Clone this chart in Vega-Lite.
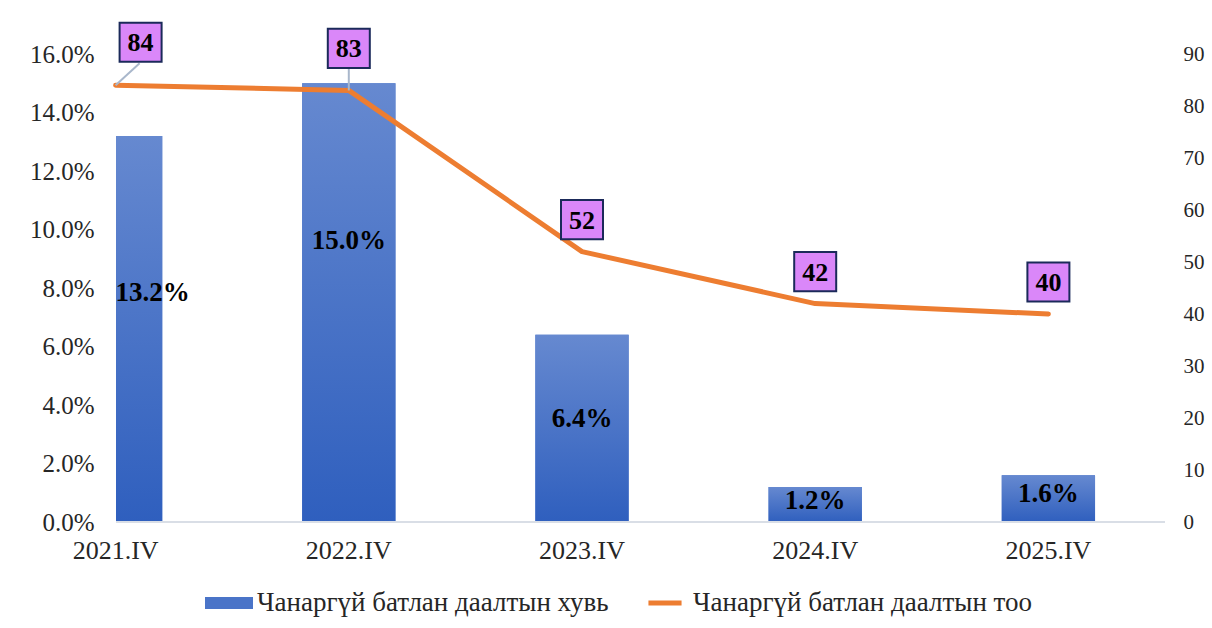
{
  "$schema": "https://vega.github.io/schema/vega-lite/v6.json",
  "width": 1049,
  "height": 468,
  "autosize": {"type": "none"},
  "padding": {"left": 116, "top": 54, "right": 47, "bottom": 106},
  "background": "white",
  "data": {
    "values": [
      {"period": "2021.IV", "share": 0.132, "count": 84},
      {"period": "2022.IV", "share": 0.150, "count": 83},
      {"period": "2023.IV", "share": 0.064, "count": 52},
      {"period": "2024.IV", "share": 0.012, "count": 42},
      {"period": "2025.IV", "share": 0.016, "count": 40}
    ]
  },
  "config": {
    "font": "Liberation Serif",
    "view": {"stroke": null}
  },
  "layer": [
    {
      "layer": [
        {
          "mark": {"type": "bar", "clip": true},
          "encoding": {
            "x": {
              "field": "period", "type": "nominal", "sort": null,
              "scale": {"type": "band", "range": [-117, 1049], "paddingInner": 0.6, "paddingOuter": 0.3},
              "axis": {"title": null, "labelAngle": 0, "domain": false, "ticks": false, "grid": false,
                       "labelFont": "Liberation Serif", "labelFontSize": 26, "labelColor": "#262626", "labelPadding": 15}
            },
            "y": {
              "field": "share", "type": "quantitative",
              "scale": {"domain": [0, 0.16]},
              "axis": {"orient": "left", "title": null, "values": [0, 0.02, 0.04, 0.06, 0.08, 0.10, 0.12, 0.14, 0.16],
                       "format": ".1%", "domain": false, "ticks": false, "grid": false,
                       "labelFont": "Liberation Serif", "labelFontSize": 25, "labelColor": "#262626", "labelPadding": 22}
            },
            "color": {
              "datum": "Чанаргүй батлан даалтын хувь", "type": "nominal",
              "scale": {
                "domain": ["Чанаргүй батлан даалтын хувь", "Чанаргүй батлан даалтын тоо"],
                "range": ["#4A74C8", "#ED7D31"]
              },
              "legend": {
                "orient": "none", "legendX": 89, "legendY": 525, "direction": "horizontal", "title": null,
                "labelFont": "Liberation Serif", "labelFontSize": 27, "labelColor": "#262626", "labelLimit": 700,
                "symbolSize": 2304, "columnPadding": 32, "labelOffset": 4,
                "encode": {
                  "symbols": {
                    "update": {
                      "shape": {"signal": "datum.value === 'Чанаргүй батлан даалтын хувь' ? 'M-1,-0.25H1V0.25H-1Z' : 'M-0.69,-0.1H0.69V0.1H-0.69Z'"},
                      "fill": {"signal": "datum.value === 'Чанаргүй батлан даалтын хувь' ? {gradient: 'linear', x1: 0, y1: 0, x2: 0, y2: 1, stops: [{offset: 0, color: '#6689D0'}, {offset: 1, color: '#2F5FBE'}]} : '#ED7D31'"},
                      "strokeWidth": {"value": 0},
                      "opacity": {"value": 1},
                      "fillOpacity": {"value": 1}
                    }
                  }
                }
              }
            }
          }
        },
        {
          "mark": {"type": "bar", "clip": true,
                   "fill": {"gradient": "linear", "x1": 0, "y1": 0, "x2": 0, "y2": 1,
                            "stops": [{"offset": 0, "color": "#6689D0"}, {"offset": 1, "color": "#2F5FBE"}]}},
          "encoding": {
            "x": {"field": "period", "type": "nominal", "sort": null},
            "y": {"field": "share", "type": "quantitative"}
          }
        },
        {
          "mark": {"type": "rule", "color": "#D9DEE6", "strokeWidth": 2},
          "encoding": {"y": {"datum": 0, "type": "quantitative"}}
        }
      ]
    },
    {
      "layer": [
        {
          "transform": [{"filter": "datum.period === '2021.IV'"}],
          "mark": {"type": "text", "fontWeight": "bold", "fontSize": 27, "font": "Liberation Serif", "color": "#000000", "dx": 37, "baseline": "middle"},
          "encoding": {
            "x": {"field": "period", "type": "nominal", "sort": null},
            "y": {"field": "share", "type": "quantitative", "scale": {"domain": [0, 0.27]}, "axis": null},
            "text": {"field": "share", "type": "quantitative", "format": ".1%"}
          }
        },
        {
          "transform": [{"filter": "datum.period === '2022.IV'"}],
          "mark": {"type": "text", "fontWeight": "bold", "fontSize": 27, "font": "Liberation Serif", "color": "#000000", "dy": -21, "baseline": "middle"},
          "encoding": {
            "x": {"field": "period", "type": "nominal", "sort": null},
            "y": {"field": "share", "type": "quantitative", "scale": {"domain": [0, 0.27]}, "axis": null},
            "text": {"field": "share", "type": "quantitative", "format": ".1%"}
          }
        },
        {
          "transform": [{"filter": "datum.period === '2023.IV'"}],
          "mark": {"type": "text", "fontWeight": "bold", "fontSize": 27, "font": "Liberation Serif", "color": "#000000", "dy": 8, "baseline": "middle"},
          "encoding": {
            "x": {"field": "period", "type": "nominal", "sort": null},
            "y": {"field": "share", "type": "quantitative", "scale": {"domain": [0, 0.27]}, "axis": null},
            "text": {"field": "share", "type": "quantitative", "format": ".1%"}
          }
        },
        {
          "transform": [{"filter": "datum.period === '2024.IV' || datum.period === '2025.IV'"}],
          "mark": {"type": "text", "fontWeight": "bold", "fontSize": 27, "font": "Liberation Serif", "color": "#000000", "baseline": "middle"},
          "encoding": {
            "x": {"field": "period", "type": "nominal", "sort": null},
            "y": {"field": "share", "type": "quantitative", "scale": {"domain": [0, 0.27]}, "axis": null},
            "text": {"field": "share", "type": "quantitative", "format": ".1%"}
          }
        }
      ]
    },
    {
      "layer": [
        {
          "mark": {"type": "line", "strokeWidth": 5, "strokeCap": "round", "strokeJoin": "round"},
          "encoding": {
            "x": {"field": "period", "type": "nominal", "sort": null},
            "y": {
              "field": "count", "type": "quantitative",
              "scale": {"domain": [0, 90]},
              "axis": {"orient": "right", "title": null, "values": [0, 10, 20, 30, 40, 50, 60, 70, 80, 90],
                       "domain": false, "ticks": false, "grid": false,
                       "labelFont": "Liberation Serif", "labelFontSize": 21, "labelColor": "#262626", "labelPadding": 18}
            },
            "color": {"datum": "Чанаргүй батлан даалтын тоо", "type": "nominal"}
          }
        },
        {
          "transform": [{"filter": "datum.period === '2021.IV'"}],
          "mark": {"type": "rule", "color": "#A9B7CB", "strokeWidth": 2, "x2Offset": 24, "y2Offset": -22},
          "encoding": {
            "x": {"field": "period", "type": "nominal", "sort": null},
            "y": {"field": "count", "type": "quantitative"},
            "x2": {"field": "period"},
            "y2": {"field": "count"}
          }
        },
        {
          "transform": [{"filter": "datum.period === '2022.IV'"}],
          "mark": {"type": "rule", "color": "#A9B7CB", "strokeWidth": 2, "y2Offset": -22},
          "encoding": {
            "x": {"field": "period", "type": "nominal", "sort": null},
            "y": {"field": "count", "type": "quantitative"},
            "y2": {"field": "count"}
          }
        },
        {
          "transform": [{"filter": "datum.period === '2021.IV'"}],
          "mark": {"type": "point", "filled": true, "shape": "M-1,-0.93H1V0.93H-1Z", "size": 1764, "fill": "#DA87F9", "stroke": "#1B2A5A", "strokeWidth": 2, "opacity": 1, "xOffset": 25, "yOffset": -43},
          "encoding": {
            "x": {"field": "period", "type": "nominal", "sort": null},
            "y": {"field": "count", "type": "quantitative"}
          }
        },
        {
          "transform": [{"filter": "datum.period === '2021.IV'"}],
          "mark": {"type": "text", "fontWeight": "bold", "fontSize": 26, "font": "Liberation Serif", "color": "#000000", "baseline": "middle", "xOffset": 25, "yOffset": -42},
          "encoding": {
            "x": {"field": "period", "type": "nominal", "sort": null},
            "y": {"field": "count", "type": "quantitative"},
            "text": {"field": "count", "type": "quantitative"}
          }
        },
        {
          "transform": [{"filter": "datum.period === '2022.IV'"}],
          "mark": {"type": "point", "filled": true, "shape": "M-1,-0.93H1V0.93H-1Z", "size": 1764, "fill": "#DA87F9", "stroke": "#1B2A5A", "strokeWidth": 2, "opacity": 1, "yOffset": -42},
          "encoding": {
            "x": {"field": "period", "type": "nominal", "sort": null},
            "y": {"field": "count", "type": "quantitative"}
          }
        },
        {
          "transform": [{"filter": "datum.period === '2022.IV'"}],
          "mark": {"type": "text", "fontWeight": "bold", "fontSize": 26, "font": "Liberation Serif", "color": "#000000", "baseline": "middle", "yOffset": -41},
          "encoding": {
            "x": {"field": "period", "type": "nominal", "sort": null},
            "y": {"field": "count", "type": "quantitative"},
            "text": {"field": "count", "type": "quantitative"}
          }
        },
        {
          "transform": [{"filter": "datum.period !== '2021.IV' && datum.period !== '2022.IV'"}],
          "mark": {"type": "point", "filled": true, "shape": "M-1,-0.93H1V0.93H-1Z", "size": 1764, "fill": "#DA87F9", "stroke": "#1B2A5A", "strokeWidth": 2, "opacity": 1, "yOffset": -32},
          "encoding": {
            "x": {"field": "period", "type": "nominal", "sort": null},
            "y": {"field": "count", "type": "quantitative"}
          }
        },
        {
          "transform": [{"filter": "datum.period !== '2021.IV' && datum.period !== '2022.IV'"}],
          "mark": {"type": "text", "fontWeight": "bold", "fontSize": 26, "font": "Liberation Serif", "color": "#000000", "baseline": "middle", "yOffset": -31},
          "encoding": {
            "x": {"field": "period", "type": "nominal", "sort": null},
            "y": {"field": "count", "type": "quantitative"},
            "text": {"field": "count", "type": "quantitative"}
          }
        }
      ]
    }
  ],
  "resolve": {"scale": {"y": "independent"}, "axis": {"y": "independent"}}
}
